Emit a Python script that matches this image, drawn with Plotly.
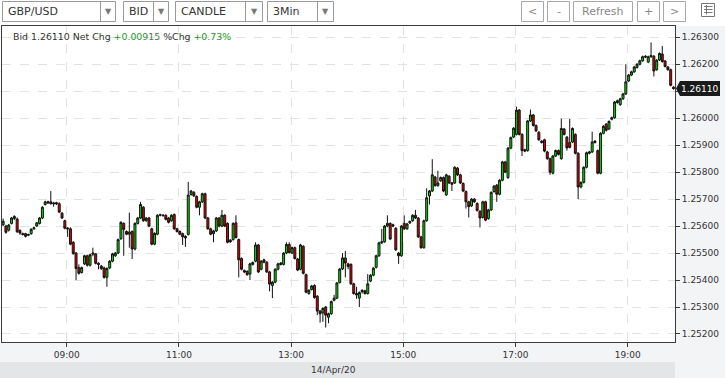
import plotly.graph_objects as go
from datetime import datetime, timedelta

# ---------------- data ----------------
symbol = "GBP/USD"
price_type = "BID"
chart_type = "CANDLE"
interval = "3Min"
session_date = "14/Apr/20"
first_bar = datetime(2020, 4, 14, 7, 52)
bar_minutes = 3
net_chg = 0.00915
pct_chg = 0.73

opens = [
    1.25605, 1.25600, 1.25585, 1.25610, 1.25628, 1.25626, 1.25584, 1.25572, 1.25572, 1.25566,
    1.25572, 1.25590, 1.25600, 1.25610, 1.25630, 1.25680, 1.25686, 1.25690, 1.25686, 1.25687,
    1.25683, 1.25648, 1.25620, 1.25593, 1.25590, 1.25540, 1.25500, 1.25446, 1.25428, 1.25460,
    1.25490, 1.25455, 1.25496, 1.25497, 1.25462, 1.25452, 1.25445, 1.25410, 1.25445, 1.25470,
    1.25490, 1.25500, 1.25553, 1.25610, 1.25580, 1.25570, 1.25580, 1.25515, 1.25610, 1.25630,
    1.25670, 1.25620, 1.25630, 1.25590, 1.25533, 1.25570, 1.25640, 1.25638, 1.25640,
    1.25630, 1.25620, 1.25643, 1.25590, 1.25580, 1.25572, 1.25556, 1.25569, 1.25717, 1.25725,
    1.25710, 1.25670, 1.25690, 1.25720, 1.25630, 1.25590, 1.25572, 1.25582, 1.25630, 1.25600,
    1.25640, 1.25610, 1.25548, 1.25550, 1.25612, 1.25550, 1.25480, 1.25435, 1.25432, 1.25422,
    1.25458, 1.25470, 1.25530, 1.25440, 1.25475, 1.25466, 1.25430, 1.25380, 1.25392, 1.25440,
    1.25463, 1.25458, 1.25500, 1.25532, 1.25500, 1.25520, 1.25478, 1.25440, 1.25525, 1.25420,
    1.25350, 1.25365, 1.25380, 1.25340, 1.25285, 1.25278, 1.25300, 1.25262, 1.25275, 1.25325,
    1.25333, 1.25391, 1.25441, 1.25482, 1.25460, 1.25458, 1.25386, 1.25350, 1.25333, 1.25362,
    1.25360, 1.25350, 1.25396, 1.25418, 1.25447, 1.25490, 1.25538, 1.25542, 1.25600, 1.25610,
    1.25605, 1.25592, 1.25500, 1.25490, 1.25610, 1.25590, 1.25612, 1.25620, 1.25640, 1.25630,
    1.25560, 1.25520, 1.25620, 1.25712, 1.25730, 1.25782, 1.25750, 1.25768, 1.25780, 1.25716,
    1.25785, 1.25755, 1.25760, 1.25815, 1.25790, 1.25758, 1.25728, 1.25690, 1.25675, 1.25700,
    1.25684, 1.25655, 1.25632, 1.25690, 1.25628, 1.25660, 1.25728, 1.25752, 1.25718, 1.25770,
    1.25838,
    1.25780, 1.25889, 1.25930, 1.25940, 1.26030, 1.25940, 1.25883, 1.25880, 1.25990, 1.26012,
    1.25973, 1.25948, 1.25915, 1.25920, 1.25875, 1.25850, 1.25796, 1.25860, 1.25880, 1.25850,
    1.25960, 1.25930, 1.25910, 1.25912, 1.25940, 1.25870, 1.25745, 1.25762, 1.25818, 1.25870,
    1.25875, 1.25910, 1.25880, 1.25796, 1.25944, 1.25978, 1.25960, 1.25996, 1.26002, 1.26058,
    1.26050, 1.26072, 1.26090, 1.26138, 1.26160, 1.26172, 1.26188, 1.26200, 1.26213, 1.26230,
    1.26208, 1.26228, 1.26230, 1.26180, 1.26216, 1.26238, 1.26212, 1.26190, 1.26180, 1.26115,
]
closes = [
    1.25618, 1.25577, 1.25604, 1.25630, 1.25636, 1.25579, 1.25574, 1.25569, 1.25562, 1.25569,
    1.25588, 1.25594, 1.25612, 1.25630, 1.25670, 1.25690, 1.25690, 1.25683, 1.25683, 1.25683,
    1.25652, 1.25630, 1.25592, 1.25590, 1.25533, 1.25498, 1.25443, 1.25425, 1.25446, 1.25490,
    1.25455, 1.25494, 1.25500, 1.25462, 1.25458, 1.25442, 1.25410, 1.25443, 1.25470, 1.25497,
    1.25500, 1.25550, 1.25614, 1.25588, 1.25570, 1.25578, 1.25515, 1.25610, 1.25630, 1.25680,
    1.25620, 1.25630, 1.25600, 1.25533, 1.25573, 1.25640, 1.25642, 1.25640, 1.25625,
    1.25614, 1.25640, 1.25590, 1.25580, 1.25570, 1.25560, 1.25562, 1.25715, 1.25730, 1.25712,
    1.25670, 1.25690, 1.25720, 1.25630, 1.25590, 1.25570, 1.25582, 1.25630, 1.25600, 1.25640,
    1.25600, 1.25540, 1.25542, 1.25610, 1.25558, 1.25475, 1.25440, 1.25430, 1.25420, 1.25460,
    1.25465, 1.25530, 1.25430, 1.25470, 1.25466, 1.25430, 1.25385, 1.25392, 1.25440, 1.25460,
    1.25458, 1.25500, 1.25532, 1.25502, 1.25520, 1.25480, 1.25437, 1.25530, 1.25425, 1.25355,
    1.25362, 1.25378, 1.25335, 1.25285, 1.25275, 1.25295, 1.25270, 1.25275, 1.25320, 1.25333,
    1.25389, 1.25441, 1.25482, 1.25463, 1.25450, 1.25386, 1.25350, 1.25345, 1.25354, 1.25357,
    1.25350, 1.25386, 1.25418, 1.25444, 1.25490, 1.25538, 1.25542, 1.25600, 1.25610, 1.25552,
    1.25600, 1.25512, 1.25490, 1.25600, 1.25590, 1.25608, 1.25617, 1.25640, 1.25630, 1.25560,
    1.25520, 1.25620, 1.25705, 1.25730, 1.25790, 1.25750, 1.25760, 1.25780, 1.25730, 1.25790,
    1.25760, 1.25760, 1.25818, 1.25790, 1.25760, 1.25730, 1.25690, 1.25672, 1.25700, 1.25690,
    1.25658, 1.25630, 1.25690, 1.25622, 1.25660, 1.25725, 1.25748, 1.25718, 1.25770, 1.25838,
    1.25800,
    1.25889, 1.25928, 1.25963, 1.26030, 1.25940, 1.25880, 1.25878, 1.25990, 1.26012, 1.25973,
    1.25953, 1.25920, 1.25910, 1.25878, 1.25850, 1.25800, 1.25860, 1.25880, 1.25866, 1.25962,
    1.25940, 1.25890, 1.25892, 1.25962, 1.25870, 1.25745, 1.25762, 1.25818, 1.25872, 1.25875,
    1.25912, 1.25915, 1.25796, 1.25944, 1.25970, 1.25955, 1.25988, 1.26002, 1.26060, 1.26065,
    1.26072, 1.26090, 1.26135, 1.26160, 1.26172, 1.26190, 1.26200, 1.26213, 1.26228, 1.26227,
    1.26228, 1.26232, 1.26175, 1.26215, 1.26240, 1.26210, 1.26192, 1.26180, 1.26122, 1.26110,
]
highs = [
    1.25628, 1.25605, 1.25608, 1.25634, 1.25640, 1.25632, 1.25588, 1.25576, 1.25575, 1.25572,
    1.25592, 1.25598, 1.25615, 1.25634, 1.25674, 1.25694, 1.25694, 1.25730, 1.25690, 1.25690,
    1.25688, 1.25652, 1.25624, 1.25596, 1.25595, 1.25544, 1.25504, 1.25458, 1.25450, 1.25494,
    1.25494, 1.25498, 1.25520, 1.25500, 1.25466, 1.25456, 1.25450, 1.25447, 1.25474, 1.25501,
    1.25504, 1.25554, 1.25618, 1.25614, 1.25584, 1.25650, 1.25584, 1.25614, 1.25634, 1.25690,
    1.25674, 1.25634, 1.25634, 1.25594, 1.25577, 1.25644, 1.25646, 1.25644, 1.25644,
    1.25634, 1.25644, 1.25647, 1.25594, 1.25584, 1.25576, 1.25566, 1.25764, 1.25734, 1.25730,
    1.25714, 1.25694, 1.25724, 1.25724, 1.25634, 1.25594, 1.25586, 1.25634, 1.25634, 1.25660,
    1.25644, 1.25614, 1.25552, 1.25614, 1.25640, 1.25554, 1.25484, 1.25439, 1.25436, 1.25464,
    1.25469, 1.25540, 1.25534, 1.25474, 1.25479, 1.25470, 1.25434, 1.25396, 1.25444, 1.25464,
    1.25467, 1.25504, 1.25540, 1.25540, 1.25524, 1.25524, 1.25482, 1.25534, 1.25529, 1.25424,
    1.25366, 1.25382, 1.25384, 1.25344, 1.25289, 1.25299, 1.25304, 1.25279, 1.25324, 1.25345,
    1.25393, 1.25445, 1.25500, 1.25508, 1.25464, 1.25462, 1.25390, 1.25375, 1.25358, 1.25366,
    1.25364, 1.25422, 1.25422, 1.25448, 1.25494, 1.25542, 1.25590, 1.25604, 1.25640, 1.25614,
    1.25609, 1.25596, 1.25504, 1.25604, 1.25640, 1.25612, 1.25621, 1.25644, 1.25660, 1.25634,
    1.25564, 1.25624, 1.25740, 1.25734, 1.25848, 1.25786, 1.25805, 1.25784, 1.25784, 1.25794,
    1.25789, 1.25764, 1.25822, 1.25819, 1.25794, 1.25762, 1.25732, 1.25694, 1.25704, 1.25704,
    1.25688, 1.25659, 1.25694, 1.25694, 1.25664, 1.25729, 1.25752, 1.25756, 1.25774, 1.25842,
    1.25842,
    1.25893, 1.25932, 1.25967, 1.26043, 1.26034, 1.25944, 1.25887, 1.25994, 1.26032, 1.26016,
    1.25977, 1.25952, 1.25919, 1.25924, 1.25879, 1.25854, 1.25864, 1.25884, 1.25884, 1.25998,
    1.25964, 1.25934, 1.25998, 1.25966, 1.25944, 1.25874, 1.25766, 1.25822, 1.25876, 1.25879,
    1.25950, 1.25919, 1.25884, 1.25948, 1.25974, 1.25982, 1.25992, 1.26006, 1.26064, 1.26069,
    1.26076, 1.26094, 1.26200, 1.26164, 1.26176, 1.26194, 1.26204, 1.26217, 1.26232, 1.26234,
    1.26232, 1.26281, 1.26234, 1.26219, 1.26244, 1.26268, 1.26216, 1.26194, 1.26184, 1.26119,
]
lows = [
    1.25600, 1.25572, 1.25580, 1.25606, 1.25622, 1.25575, 1.25568, 1.25565, 1.25558, 1.25563,
    1.25568, 1.25586, 1.25597, 1.25606, 1.25626, 1.25676, 1.25682, 1.25680, 1.25672, 1.25678,
    1.25648, 1.25626, 1.25588, 1.25560, 1.25529, 1.25494, 1.25400, 1.25420, 1.25424, 1.25456,
    1.25450, 1.25450, 1.25488, 1.25458, 1.25440, 1.25438, 1.25405, 1.25375, 1.25440, 1.25466,
    1.25486, 1.25496, 1.25549, 1.25490, 1.25566, 1.25520, 1.25478, 1.25510, 1.25606, 1.25626,
    1.25616, 1.25616, 1.25596, 1.25529, 1.25529, 1.25566, 1.25636, 1.25636, 1.25621,
    1.25610, 1.25616, 1.25586, 1.25576, 1.25566, 1.25530, 1.25523, 1.25565, 1.25713, 1.25708,
    1.25666, 1.25640, 1.25686, 1.25626, 1.25586, 1.25566, 1.25540, 1.25578, 1.25596, 1.25596,
    1.25596, 1.25536, 1.25538, 1.25546, 1.25554, 1.25410, 1.25436, 1.25426, 1.25416, 1.25400,
    1.25454, 1.25466, 1.25426, 1.25436, 1.25462, 1.25426, 1.25358, 1.25333, 1.25388, 1.25436,
    1.25454, 1.25454, 1.25496, 1.25498, 1.25496, 1.25476, 1.25433, 1.25436, 1.25421, 1.25351,
    1.25346, 1.25361, 1.25331, 1.25270, 1.25242, 1.25245, 1.25224, 1.25240, 1.25271, 1.25321,
    1.25329, 1.25387, 1.25437, 1.25410, 1.25440, 1.25382, 1.25346, 1.25330, 1.25300, 1.25350,
    1.25346, 1.25346, 1.25392, 1.25414, 1.25443, 1.25486, 1.25534, 1.25538, 1.25596, 1.25548,
    1.25596, 1.25508, 1.25460, 1.25486, 1.25586, 1.25586, 1.25608, 1.25616, 1.25626, 1.25556,
    1.25516, 1.25516, 1.25616, 1.25680, 1.25726, 1.25746, 1.25746, 1.25764, 1.25726, 1.25712,
    1.25756, 1.25730, 1.25756, 1.25786, 1.25756, 1.25726, 1.25665, 1.25632, 1.25671, 1.25686,
    1.25654, 1.25595, 1.25628, 1.25618, 1.25624, 1.25656, 1.25724, 1.25690, 1.25714, 1.25766,
    1.25796,
    1.25775, 1.25885, 1.25926, 1.25936, 1.25936, 1.25860, 1.25874, 1.25876, 1.25986, 1.25969,
    1.25949, 1.25916, 1.25906, 1.25874, 1.25846, 1.25790, 1.25792, 1.25856, 1.25862, 1.25846,
    1.25936, 1.25880, 1.25888, 1.25908, 1.25866, 1.25700, 1.25740, 1.25758, 1.25814, 1.25866,
    1.25871, 1.25906, 1.25792, 1.25792, 1.25940, 1.25951, 1.25956, 1.25992, 1.25998, 1.26054,
    1.26046, 1.26068, 1.26086, 1.26134, 1.26156, 1.26168, 1.26184, 1.26196, 1.26209, 1.26223,
    1.26204, 1.26224, 1.26155, 1.26176, 1.26212, 1.26206, 1.26188, 1.26176, 1.26118, 1.26106,
]
time_tick_labels = ["09:00", "11:00", "13:00", "15:00", "17:00", "19:00"]
price_ticks = [1.252, 1.253, 1.254, 1.255, 1.256, 1.257, 1.258, 1.259, 1.260, 1.261, 1.262, 1.263]

# ---------------- geometry helpers (pixel -> paper) ----------------
PL, PR, PT, PB = 2, 675, 26, 342
W, H = PR - PL, PB - PT


def px(x):
    return (x - PL) / W


def py(y):
    return (PB - y) / H


times = [first_bar + timedelta(minutes=bar_minutes * i) for i in range(len(closes))]
day = first_bar.date()
tick_vals = [datetime.combine(day, datetime.strptime(t, "%H:%M").time()) for t in time_tick_labels]

last = closes[-1]
# the last-price tag covers the tick label that sits under it (as in the reference)
price_text = ["" if abs(v - last) < 0.0003 else f"{v:.5f}" for v in price_ticks]

fig = go.Figure()
fig.add_trace(go.Candlestick(
    x=times, open=opens, high=highs, low=lows, close=closes,
    increasing=dict(line=dict(color="#111111", width=1), fillcolor="#00dc00"),
    decreasing=dict(line=dict(color="#111111", width=1), fillcolor="#e00000"),
    whiskerwidth=0, hoverinfo="skip", showlegend=False,
))

x_start = datetime(2020, 4, 14, 7, 50, 48)
x_end = datetime(2020, 4, 14, 19, 50, 36)

FONT = "DejaVu Sans"
AX = "#3a3a3a"

fig.update_layout(
    width=725, height=378,
    margin=dict(l=PL, r=725 - PR, t=PT, b=378 - PB),
    paper_bgcolor="white", plot_bgcolor="white",
    showlegend=False, boxgap=0.0,
    font=dict(family=FONT, size=9, color="#333"),
    xaxis=dict(
        type="date", range=[x_start, x_end], rangeslider=dict(visible=False),
        tickvals=tick_vals, ticktext=time_tick_labels,
        showgrid=True, gridcolor="#e2e2e2", griddash="dash", gridwidth=1,
        showline=True, linecolor=AX, linewidth=1, mirror=True,
        ticks="outside", ticklen=4, tickcolor=AX,
        tickfont=dict(family=FONT, size=9, color="#333"),
        zeroline=False, fixedrange=True,
    ),
    yaxis=dict(
        side="right", range=[1.251703, 1.263419],
        tickvals=price_ticks, ticktext=price_text,
        showgrid=True, gridcolor="#e2e2e2", griddash="dash", gridwidth=1,
        showline=True, linecolor=AX, linewidth=1, mirror=True,
        ticks="outside", ticklen=4, tickcolor=AX,
        tickfont=dict(family=FONT, size=9, color="#333"),
        zeroline=False, fixedrange=True,
    ),
)

shapes = []
annotations = []

# gray background regions
shapes.append(dict(type="rect", xref="paper", yref="paper", layer="below",
                   x0=px(PR), x1=px(725), y0=py(378), y1=py(PT),
                   fillcolor="#f3f4f6", line=dict(width=0)))
shapes.append(dict(type="rect", xref="paper", yref="paper", layer="below",
                   x0=px(0), x1=px(PR), y0=py(362), y1=py(PB),
                   fillcolor="#f3f4f6", line=dict(width=0)))
shapes.append(dict(type="rect", xref="paper", yref="paper", layer="below",
                   x0=px(0), x1=px(PR), y0=py(378), y1=py(362),
                   fillcolor="#e4e5e7", line=dict(width=0)))
annotations.append(dict(xref="paper", yref="paper", x=px(333), y=py(370),
                        text=session_date, showarrow=False, xanchor="center", yanchor="middle",
                        font=dict(family=FONT, size=9, color="#333")))

# toolbar dropdowns
dropdowns = [(symbol, 2, 100, 115), (price_type, 123, 153, 168), (chart_type, 175, 245, 262), (interval, 267, 317, 333)]
for label, x0, xs, x1 in dropdowns:
    shapes.append(dict(type="rect", xref="paper", yref="paper", x0=px(x0 + 0.5), x1=px(x1 + 0.5),
                       y0=py(21.5), y1=py(1.5), fillcolor="white", line=dict(color="#9a9a9a", width=1)))
    shapes.append(dict(type="line", xref="paper", yref="paper", x0=px(xs + 0.5), x1=px(xs + 0.5),
                       y0=py(21.5), y1=py(1.5), line=dict(color="#9a9a9a", width=1)))
    annotations.append(dict(xref="paper", yref="paper", x=px(x0 + 4), y=py(11.5), text=label,
                            showarrow=False, xanchor="left", yanchor="middle",
                            font=dict(family=FONT, size=11, color="#333")))
    annotations.append(dict(xref="paper", yref="paper", x=px((xs + x1) / 2 + 0.5), y=py(11.5), text="▼",
                            showarrow=False, xanchor="center", yanchor="middle",
                            font=dict(family=FONT, size=8, color="#777")))

# right buttons
buttons = [("<", 521, 543), ("-", 547, 569), ("Refresh", 573, 632), ("+", 637, 659), (">", 663, 685)]
for label, x0, x1 in buttons:
    shapes.append(dict(type="rect", xref="paper", yref="paper", x0=px(x0 + 0.5), x1=px(x1 + 0.5),
                       y0=py(21.5), y1=py(1.5), fillcolor="white", line=dict(color="#a8a8a8", width=1)))
    annotations.append(dict(xref="paper", yref="paper", x=px((x0 + x1) / 2 + 0.5), y=py(11.5), text=label,
                            showarrow=False, xanchor="center", yanchor="middle",
                            font=dict(family=FONT, size=11, color="#888")))

# small list icon
shapes.append(dict(type="rect", xref="paper", yref="paper", x0=px(701.5), x1=px(714.5),
                   y0=py(16.5), y1=py(3.5), fillcolor="white", line=dict(color="#777", width=1)))
for yy in (6.5, 9.5, 12.5):
    shapes.append(dict(type="line", xref="paper", yref="paper", x0=px(704), x1=px(712.5),
                       y0=py(yy), y1=py(yy), line=dict(color="#777", width=1)))
shapes.append(dict(type="line", xref="paper", yref="paper", x0=px(706.5), x1=px(706.5),
                   y0=py(14.5), y1=py(5), line=dict(color="#777", width=1)))

# header text
green = "#149a14"
header = (f"Bid {last:.5f} Net Chg <span style='color:{green}'>+{net_chg:.5f}</span>"
          f" %Chg <span style='color:{green}'>+{pct_chg:.2f}%</span>")
annotations.append(dict(xref="paper", yref="paper", x=px(11), y=py(36.5), text=header,
                        showarrow=False, xanchor="left", yanchor="middle",
                        font=dict(family=FONT, size=9.4, color="#333")))

# last price tag
y_last = last
x_tip, x_l, x_r = px(PR + 1), px(PR + 5), px(720)
half = 0.00028
shapes.append(dict(type="path", xref="paper", yref="y",
                   path=(f"M {x_tip},{y_last} L {x_l},{y_last + half} L {x_r},{y_last + half} "
                         f"L {x_r},{y_last - half} L {x_l},{y_last - half} Z"),
                   fillcolor="#1a1a1a", line=dict(width=0)))
annotations.append(dict(xref="paper", yref="y", x=(x_l + x_r) / 2, y=y_last, text=f"{last:.5f}",
                        showarrow=False, xanchor="center", yanchor="middle",
                        font=dict(family=FONT, size=9, color="white")))

fig.update_layout(shapes=shapes, annotations=annotations)
fig.write_html("out.html")
